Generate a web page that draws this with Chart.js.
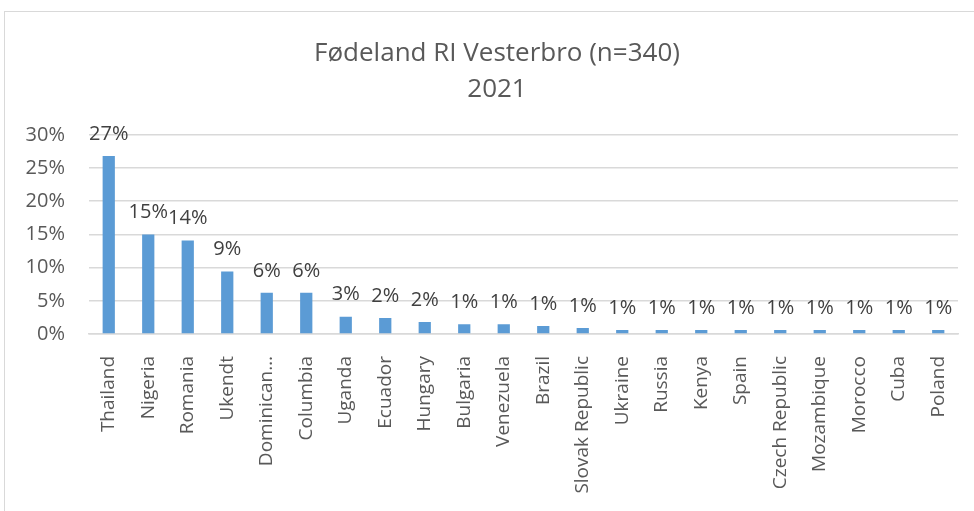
<!DOCTYPE html>
<html>
<head>
<meta charset="utf-8">
<script src="https://cdn.jsdelivr.net/npm/chart.js@4"></script>
<style>
  html, body { margin: 0; padding: 0; background: #fff; }
  #wrap { position: relative; width: 974px; height: 511px; overflow: hidden; }
  #frame { position: absolute; left: 4px; top: 11px; width: 1000px; height: 520px;
           border: 1.5px solid #d9d9d9; box-sizing: border-box; }
  canvas { position: absolute; left: 0; top: 0; }
</style>
</head>
<body>
<div id="wrap">
  <div id="frame"></div>
  <canvas id="chart" width="994" height="511"></canvas>
</div>
<script>
(function () {
    'use strict';

    // ── DATA ───────────────────────────────────────────────────────────────
    const COUNTRIES = ['Thailand', 'Nigeria', 'Romania', 'Ukendt', 'Dominican…', 'Columbia',
        'Uganda', 'Ecuador', 'Hungary', 'Bulgaria', 'Venezuela', 'Brazil', 'Slovak Republic',
        'Ukraine', 'Russia', 'Kenya', 'Spain', 'Czech Republic', 'Mozambique', 'Morocco',
        'Cuba', 'Poland'];
    const SHARES = [26.8, 15.0, 14.1, 9.4, 6.2, 6.2, 2.6, 2.4, 1.8, 1.47, 1.47, 1.2, 0.9,
        0.6, 0.6, 0.6, 0.6, 0.6, 0.6, 0.6, 0.6, 0.6];
    const TITLE = ['Fødeland RI Vesterbro (n=340)', '2021'];

    // ── COLORS ─────────────────────────────────────────────────────────────
    const BAR   = '#5b9bd5';
    const GRID  = '#d9d9d9';
    const TEXT  = '#595959';
    const LABEL = '#404040';
    const FONT  = "'Open Sans', 'Noto Sans', sans-serif";

    // value labels above bars
    const valueLabels = {
        id: 'valueLabels',
        afterDatasetsDraw(chart) {
            const { ctx } = chart;
            const meta = chart.getDatasetMeta(0);
            ctx.save();
            ctx.font = `20px ${FONT}`;
            ctx.fillStyle = LABEL;
            ctx.textAlign = 'center';
            ctx.textBaseline = 'bottom';
            meta.data.forEach((bar, i) => {
                ctx.fillText(Math.round(SHARES[i]) + '%', bar.x, bar.y - 12);
            });
            ctx.restore();
        }
    };

    new Chart(document.getElementById('chart'), {
        type: 'bar',
        data: {
            labels: COUNTRIES,
            datasets: [{
                data: SHARES,
                backgroundColor: BAR,
                barPercentage: 0.62,
                categoryPercentage: 0.5
            }]
        },
        options: {
            responsive: false,
            animation: false,
            layout: { padding: { top: 35, right: 0, left: 0, bottom: 0 } },
            plugins: {
                legend: { display: false },
                tooltip: { enabled: false },
                title: {
                    display: true,
                    text: TITLE,
                    color: TEXT,
                    font: { family: FONT, size: 26, weight: 'normal', lineHeight: 1.4 },
                    padding: { top: 0, bottom: 27 }
                }
            },
            scales: {
                y: {
                    min: 0,
                    max: 30,
                    ticks: {
                        stepSize: 5,
                        callback: v => v + '%',
                        color: TEXT,
                        font: { family: FONT, size: 20 },
                        padding: 24
                    },
                    grid: { color: GRID, lineWidth: 1.5, drawTicks: false },
                    border: { display: false },
                    afterFit: s => { s.width = 89; }
                },
                // empty right-hand spacer so the title centres like the original
                spacer: {
                    type: 'linear',
                    position: 'right',
                    ticks: { display: false },
                    grid: { display: false },
                    border: { display: false },
                    afterFit: s => { s.width = 36; }
                },
                x: {
                    ticks: {
                        minRotation: 90,
                        maxRotation: 90,
                        autoSkip: false,
                        color: TEXT,
                        font: { family: FONT, size: 19 },
                        padding: 14
                    },
                    grid: { display: false },
                    border: { display: true, color: GRID, width: 1.5 },
                    afterFit: s => { s.height = 177; }
                }
            }
        },
        plugins: [valueLabels]
    });
})();
</script>
</body>
</html>
